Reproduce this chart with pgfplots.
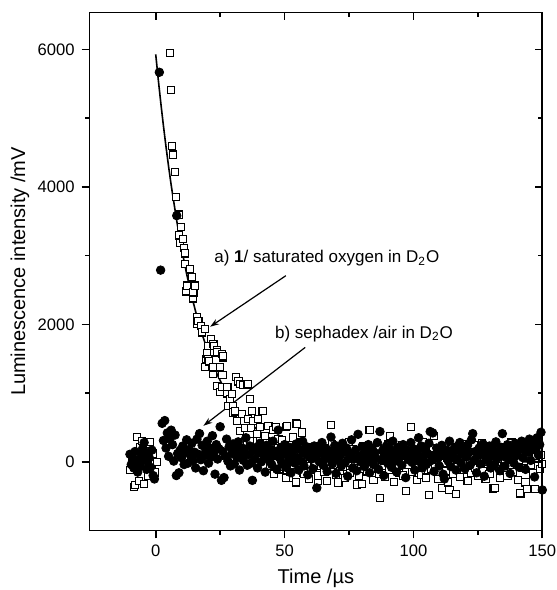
\documentclass[border=0pt]{standalone}
\usepackage{pgfplots}
\pgfplotsset{compat=1.18}
\usepackage{fontspec}
\setmainfont{Liberation Sans}
\usetikzlibrary{arrows.meta,calc}

\pgfplotsset{
  lumi/.style={
    scale only axis, width=226.4pt, height=259pt,
    xmin=-25.7, xmax=150, ymin=-1000, ymax=6540,
    xtick={0,50,100,150}, ytick={0,2000,4000,6000},
    minor x tick num=1, minor y tick num=1,
    major tick length=3.9pt, minor tick length=2.2pt,
    every tick/.style={black, line width=0.8pt},
    axis line style={line width=0.9pt, -},
    scaled ticks=false,
    /pgf/number format/1000 sep={},
    /pgf/number format/assume math mode=true,
    tick label style={font=\fontsize{8.3}{10}\selectfont},
  },
}

\begin{document}
\begin{tikzpicture}
\begin{axis}[lumi, name=ax,
    axis x line*=bottom, axis y line*=left, tick align=outside,
    xlabel={Time /µs}, ylabel={Luminescence intensity /mV},
    every axis x label/.style={at={(axis description cs:0.5,-0.0917)}, anchor=center, font=\fontsize{10}{12}\selectfont},
    every axis y label/.style={at={(axis description cs:-0.1535,0.5)}, rotate=90, anchor=center, font=\fontsize{10}{12}\selectfont},
]
% a) 1 / saturated oxygen : open squares
\addplot[only marks, mark=square*, mark size=1.8pt, mark options={draw=black, fill=white, line width=0.55pt}] coordinates {
(-9.8,-120) (-9.3,63) (-8.7,0) (-8.3,-364) (-8,-335) (-7.4,364) (-7,90) (-6.4,-277) (-6.1,208) (-5.4,306)
(-5,-60) (-4.5,-325) (-3.5,160) (-3,40) (-2.8,-200) (-2.2,291) (-1.6,-106) (-1,120) (-0.3,-155) (0.4,0)
(5.55,5948) (5.94,5414) (6.44,4593) (6.83,4472) (7.38,4214) (8.0,3850) (8.93,3598) (9.05,3296) (9.43,3190) (9.82,3413)
(10.48,3248) (10.87,3117) (11.26,3034) (11.37,2880) (11.76,2481) (12.03,2564) (13.3,2801) (13.97,2685) (14.36,2379) (14.6,2466)
(15.26,2564) (15.92,2102) (16.15,2006) (16.54,2054) (17.47,1981) (17.86,1883) (19.14,1933) (19.1,1384) (19.5,1496) (19.8,1578)
(20.42,1496) (20.4,1690) (20.8,1461) (21.35,1787) (22.1,1277) (22.36,1374) (22.36,1715) (22.6,1690) (23.68,1627) (23.7,1107)
(23.9,1592) (24.96,1384) (25.0,1020) (25.6,1093) (25.62,1569) (25.9,1263) (26.0,1519) (26.2,1544) (27.6,995) (27.8,1093)
(28.2,816) (28.8,913) (29.5,986) (29.9,816) (30.1,718) (30.8,733) (31.2,1238) (31.4,597) (32.1,1170) (32.7,452)
(32.7,1132) (32.7,281) (33.4,695) (33.8,1117) (34.7,491) (35.6,1122) (35.9,1132) (35.9,622) (36.6,913) (36.6,306)
(36.9,491) (37.3,743) (37.9,597) (39.2,403) (39.8,622) (40.5,510) (40.5,306) (41.1,743) (41.5,743) (42.4,379)
(43.7,524) (45.6,462) (46.7,510) (47.6,331) (50.6,510) (50.9,524) (51.5,-228) (53.4,354) (54.5,558) (54.7,549)
(56.7,427) (57.3,-155) (63.1,-277) (68,534) (70.9,-301)
(44,150) (44.5,-60) (45,260) (45.5,30) (46,-180) (46.5,90) (47,-20) (47.5,200) (48,-110) (48.5,50)
(49,320) (49.5,-70) (50,120) (50.5,-230) (51,10) (51.5,180) (52,-140) (52.5,70) (53,240) (53.5,-40)
(54,100) (54.5,-300) (55,160) (55.5,20) (56,-90) (56.5,280) (57,60) (57.5,-170) (58,130) (58.5,-30)
(59,210) (59.5,-250) (60,40) (60.5,150) (61,-120) (61.5,80) (62,-10) (62.5,230) (63,-200) (63.5,110)
(64,-60) (64.5,20) (65,190) (65.5,-150) (66,70) (66.5,-280) (67,140) (67.5,0) (68,-100) (68.5,260)
(69,-40) (69.5,90) (70,-190) (70.5,170) (71,30) (71.5,-130) (72,220) (72.5,-70) (73,60) (73.5,-240)
(74,120) (74.5,-20) (75,290) (75.5,-160) (76,40) (76.5,180) (77,-90) (77.5,10) (78,-330) (78.5,150)
(79,-210) (79.5,70) (80,-320) (80.5,230) (81,-50) (81.5,100) (82,-140) (82.5,30) (83,460) (83.5,-100)
(84,160) (84.5,-260) (85,50) (85.5,-30) (86,200) (86.5,-180) (87,-530) (87.5,90) (88,-60) (88.5,140)
(89,-220) (89.5,20) (90,250) (90.5,-120) (91,370) (91.5,-10) (92,110) (92.5,-290) (93,60) (93.5,-80)
(94,180) (94.5,-160) (95,30) (95.5,240) (96,-200) (96.5,80) (97,-420) (97.5,130) (98,-40) (98.5,210)
(99,510) (99.5,-150) (100,50) (100.5,-90) (101,170) (101.5,-270) (102,10) (102.5,120) (103,-190) (103.5,290)
(104,-30) (104.5,70) (105,-230) (105.5,160) (106,-480) (106.5,40) (107,-110) (107.5,200) (108,380) (108.5,-60)
(109,100) (109.5,-250) (110,20) (110.5,140) (111,-380) (111.5,-20) (112,230) (112.5,-140) (113,60) (113.5,-300)
(114,-410) (114.5,150) (115,0) (115.5,-170) (116,90) (116.5,-470) (117,-70) (117.5,180) (118,-220) (118.5,40)
(119,260) (119.5,-120) (120,110) (120.5,-40) (121,-280) (121.5,190) (122,20) (122.5,-160) (123,80) (123.5,240)
(124,-90) (124.5,30) (125,-210) (125.5,150) (126,-10) (126.5,270) (127,-130) (127.5,60) (128,-250) (128.5,120)
(129,0) (129.5,-180) (130,200) (130.5,-60) (131,-390) (131.5,-380) (132,90) (132.5,-30) (133,170) (133.5,-240)
(134,40) (134.5,220) (135,-110) (135.5,10) (136,150) (136.5,-200) (137,70) (137.5,-50) (138,280) (138.5,-150)
(139,100) (139.5,-20) (140,180) (140.5,-260) (141,30) (141.5,-460) (142,120) (142.5,-90) (143,240) (143.5,-300)
(144,-400) (144.5,60) (145,160) (145.5,-40) (146,310) (146.5,-170) (147,-400) (147.5,80) (148,200) (148.5,150)
(149,-100) (149.5,100) (150,-30)
};
% b) sephadex / air : filled circles
\addplot[only marks, mark=*, mark size=2.15pt, mark options={draw=black, fill=black}] coordinates {
(-10,110) (-9.5,-40) (-9,60) (-8.5,-90) (-8,150) (-7.5,-20) (-7,-150) (-6.5,30) (-6,-60) (-5.5,90)
(-5,200) (-4.5,280) (-4,20) (-3.5,-110) (-3,130) (-2.5,60) (-2,-80) (-1.5,170) (-1,-200) (-0.5,-250)
(1.4,5670) (1.9,2790) (8.15,3583)
(2.5,560) (3,310) (3.5,600) (4,200) (4.5,420) (5,80) (5.5,330) (6,460) (6.5,250) (7,10)
(7.5,390) (8,-200) (8.5,120) (9,-160) (9.5,170) (10,60) (10.5,230) (11,-40) (11.5,140) (12,320)
(12.5,-20) (13,180) (13.5,90) (14,270) (14.5,20) (15,140) (15.5,-90) (16,330) (16.5,110) (17,410)
(17.5,30) (18,240) (18.5,-130) (19,90) (19.5,160) (20,300) (20.5,-20) (21,200) (21.5,70) (22,380)
(22.5,130) (23,-180) (23.5,250) (24,40) (24.5,190) (25,510) (25.5,-270) (26,150) (26.5,-230) (27,80)
(27.5,330) (28,10) (28.5,220) (29,-60) (29.5,120) (30,260) (30.5,-30) (31,170) (31.5,60) (32,290)
(32.5,-120) (33,90) (33.5,200) (34,20) (34.5,140) (35,350) (35.5,-50) (36,100) (36.5,230) (37,-20)
(37.5,-270) (38,160) (38.5,40) (39,210) (39.5,-90) (40,130) (40.5,270) (41,0) (41.5,190) (42,80)
(42.5,-150) (43,240) (43.5,110) (44,30) (44.5,180) (45,-40) (45.5,300) (46,90) (46.5,150) (47,-110)
(47.5,460) (48,60) (48.5,200) (49,-30) (49.5,120) (50,250)
(50.5,-80) (51,140) (51.5,30) (52,210) (52.5,-160) (53,90) (53.5,170) (54,-20) (54.5,260) (55,60)
(55.5,-120) (56,180) (56.5,10) (57,300) (57.5,-60) (58,120) (58.5,220) (59,-190) (59.5,70) (60,150)
(60.5,40) (61,-100) (61.5,230) (62,100) (62.5,-380) (63,190) (63.5,0) (64,130) (64.5,280) (65,-50)
(65.5,80) (66,200) (66.5,-140) (67,50) (67.5,160) (68,360) (68.5,-30) (69,110) (69.5,240) (70,-170)
(70.5,30) (71,180) (71.5,90) (72,-60) (72.5,270) (73,140) (73.5,-10) (74,200) (74.5,-210) (75,60)
(75.5,120) (76,320) (76.5,-90) (77,40) (77.5,170) (78,-130) (78.5,400) (79,80) (79.5,0) (80,220)
(80.5,110) (81,-70) (81.5,150) (82,30) (82.5,250) (83,-160) (83.5,90) (84,190) (84.5,-40) (85,130)
(85.5,50) (86,280) (86.5,-110) (87,440) (87.5,20) (88,160) (88.5,-200) (89,100) (89.5,230) (90,-20)
(90.5,70) (91,180) (91.5,-80) (92,300) (92.5,120) (93,10) (93.5,-150) (94,210) (94.5,60) (95,140)
(95.5,-50) (96,250) (96.5,90) (97,-230) (97.5,170) (98,30) (98.5,110) (99,280) (99.5,-10) (100,190)
(100.5,-120) (101,60) (101.5,150) (102,350) (102.5,0) (103,230) (103.5,-90) (104,80) (104.5,170) (105,-40)
(105.5,120) (106,270) (106.5,440) (107,20) (107.5,420) (108,-140) (108.5,100) (109,200) (109.5,50) (110,-60)
(110.5,150) (111,240) (111.5,-180) (112,-250) (112.5,90) (113,170) (113.5,10) (114,300) (114.5,-70) (115,130)
(115.5,60) (116,210) (116.5,-120) (117,30) (117.5,160) (118,280) (118.5,-20) (119,110) (119.5,190) (120,-100)
(120.5,70) (121,240) (121.5,130) (122,-50) (122.5,320) (123,410) (123.5,20) (124,150) (124.5,-160) (125,90)
(125.5,200) (126,-30) (126.5,120) (127,260) (127.5,-210) (128,60) (128.5,170) (129,10) (129.5,230) (130,-90)
(130.5,100) (131,180) (131.5,-40) (132,290) (132.5,50) (133,140) (133.5,-130) (134,210) (134.5,410) (135,80)
(135.5,-60) (136,160) (136.5,250) (137,30) (137.5,-170) (138,120) (138.5,200) (139,-20) (139.5,270) (140,90)
(140.5,150) (141,-80) (141.5,230) (142,300) (142.5,60) (143,180) (143.5,-110) (144,260) (144.5,140) (145,330)
(145.5,20) (146,210) (146.5,290) (147,-220) (147.5,170) (148,350) (148.5,100) (149,250) (149.5,430) (150,-410)
};
% single-exponential fit
\addplot[black, line width=0.8pt, mark=none] coordinates {
(0,5930) (1,5559) (2,5212) (3,4887) (4,4582) (5,4295) (6,4027) (8,3540) (10,3111) (12,2734)
(14,2403) (16,2112) (18,1857) (20,1632) (22,1434) (24,1261) (26,1108) (28,974) (30,856) (33,706)
(36,581) (40,449) (45,325) (50,235) (60,123) (70,65) (80,34) (100,9) (150,0)
};
\node[anchor=west, font=\fontsize{8.5}{10}\selectfont] at (axis cs:20,2960) {a) \textbf{1}/ saturated oxygen in D\textsubscript{2}O};
\node[anchor=west, font=\fontsize{8.5}{10}\selectfont] at (axis cs:43.6,1865) {b) sephadex /air in D\textsubscript{2}O};
\draw[line width=0.6pt, -{Stealth[length=4.5pt, width=3pt]}] (axis cs:50.5,2709) -- (axis cs:21.1,1966);
\draw[line width=0.6pt, -{Stealth[length=4.5pt, width=3pt]}] (axis cs:58,1665) -- (axis cs:18.5,524);
\end{axis}
\begin{axis}[lumi,
    axis x line*=top, axis y line*=right, tick align=inside,
    xticklabels={}, yticklabels={},
]
\end{axis}
\pgfresetboundingbox
\path[use as bounding box] ($(ax.south west)+(-44.75pt,-29.75pt)$) rectangle +(278.5pt,295pt);
\end{tikzpicture}
\end{document}
